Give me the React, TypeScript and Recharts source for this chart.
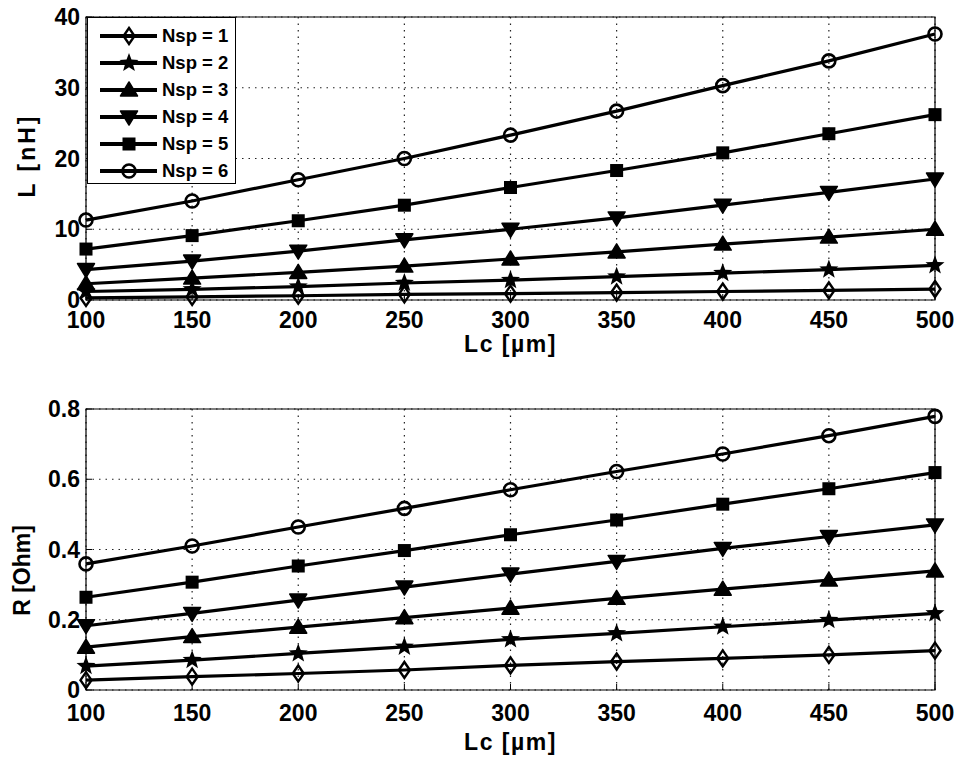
import React from 'react';
import {
  LineChart, Line, XAxis, YAxis, CartesianGrid, Legend, ReferenceArea, Label,
} from 'recharts';

// Lc sweep (µm)
const lcValues = [100, 150, 200, 250, 300, 350, 400, 450, 500];

// inductance L [nH] per Nsp
const lNsp1 = [0.3, 0.45, 0.6, 0.8, 0.9, 1.05, 1.2, 1.35, 1.55];
const lNsp2 = [1.2, 1.5, 1.9, 2.4, 2.8, 3.3, 3.8, 4.3, 4.9];
const lNsp3 = [2.3, 3.1, 3.9, 4.8, 5.8, 6.8, 7.9, 8.9, 10.0];
const lNsp4 = [4.3, 5.5, 6.9, 8.5, 10.0, 11.6, 13.4, 15.2, 17.1];
const lNsp5 = [7.2, 9.1, 11.2, 13.4, 15.9, 18.3, 20.8, 23.5, 26.2];
const lNsp6 = [11.3, 14.0, 17.0, 20.0, 23.3, 26.7, 30.3, 33.8, 37.6];

// resistance R [Ohm] per Nsp
const rNsp1 = [0.028, 0.038, 0.047, 0.057, 0.070, 0.081, 0.090, 0.100, 0.112];
const rNsp2 = [0.068, 0.085, 0.104, 0.123, 0.144, 0.161, 0.180, 0.199, 0.218];
const rNsp3 = [0.122, 0.152, 0.179, 0.206, 0.233, 0.261, 0.287, 0.313, 0.339];
const rNsp4 = [0.183, 0.218, 0.256, 0.293, 0.330, 0.366, 0.403, 0.437, 0.470];
const rNsp5 = [0.264, 0.307, 0.353, 0.397, 0.442, 0.484, 0.529, 0.573, 0.619];
const rNsp6 = [0.359, 0.410, 0.464, 0.517, 0.570, 0.622, 0.672, 0.724, 0.779];

const nspLabels = ['Nsp = 1', 'Nsp = 2', 'Nsp = 3', 'Nsp = 4', 'Nsp = 5', 'Nsp = 6'];
const lTicks = [0, 10, 20, 30, 40];
const rTicks = [0, 0.2, 0.4, 0.6, 0.8];

type Marker = 'diamond' | 'star' | 'up' | 'down' | 'square' | 'circle';
const markers: Marker[] = ['diamond', 'star', 'up', 'down', 'square', 'circle'];

const FONT = '"Liberation Sans", Arial, sans-serif';
const INK = '#000';

const toRows = (series: number[][]) =>
  lcValues.map((lc, i) => {
    const row: Record<string, number> = { lc };
    series.forEach((s, k) => { row[`n${k + 1}`] = s[i]; });
    return row;
  });

function MarkerShape({ kind, cx, cy }: { kind: Marker; cx: number; cy: number }) {
  switch (kind) {
    case 'diamond':
      return <polygon points={`${cx},${cy - 8} ${cx + 5.5},${cy} ${cx},${cy + 8} ${cx - 5.5},${cy}`} fill="none" stroke={INK} strokeWidth={2.4} />;
    case 'star': {
      const pts: string[] = [];
      for (let k = 0; k < 10; k++) {
        const r = k % 2 ? 4.2 : 10;
        const a = -Math.PI / 2 + (k * Math.PI) / 5;
        pts.push(`${cx + r * Math.cos(a)},${cy + r * Math.sin(a)}`);
      }
      return <polygon points={pts.join(' ')} fill={INK} />;
    }
    case 'up':
      return <polygon points={`${cx},${cy - 8} ${cx + 8.5},${cy + 6} ${cx - 8.5},${cy + 6}`} fill={INK} stroke={INK} strokeWidth={1.5} strokeLinejoin="round" />;
    case 'down':
      return <polygon points={`${cx},${cy + 8} ${cx + 8.5},${cy - 6} ${cx - 8.5},${cy - 6}`} fill={INK} stroke={INK} strokeWidth={1.5} strokeLinejoin="round" />;
    case 'square':
      return <rect x={cx - 6.5} y={cy - 6.5} width={13} height={13} fill={INK} />;
    default:
      return <circle cx={cx} cy={cy} r={6.5} fill="none" stroke={INK} strokeWidth={2.6} />;
  }
}

const renderLegend = () => (
  <div style={{ position: 'relative', width: 147, height: 165, border: '1px solid #000', background: '#fff' }}>
    {nspLabels.map((name, i) => (
      <div key={name} style={{ position: 'absolute', left: 11, top: 8 + i * 27, height: 20, display: 'flex', alignItems: 'center' }}>
        <svg width={60} height={20}>
          <line x1={1} y1={10} x2={58} y2={10} stroke={INK} strokeWidth={4} />
          <MarkerShape kind={markers[i]} cx={30} cy={10} />
        </svg>
        <span style={{ marginLeft: 3, fontFamily: FONT, fontWeight: 700, fontSize: 18.5, color: INK, whiteSpace: 'nowrap' }}>{name}</span>
      </div>
    ))}
  </div>
);

const tickStyle = { fill: INK, fontSize: 23, fontWeight: 700, fontFamily: FONT };

function Panel({
  height, plotTop, plotBottom, series, yDomain, yTicks, yFormat, yTitle, yTitleX, yTitleShift, yTitleSpacing,
  xTickMargin, xTitleOffset, legend,
}: {
  height: number; plotTop: number; plotBottom: number; series: number[][];
  yDomain: [number, number]; yTicks: number[]; yFormat: (v: number) => string;
  yTitle: string; yTitleX: number; yTitleShift: number; yTitleSpacing: number;
  xTickMargin: number; xTitleOffset: number; legend?: boolean;
}) {
  const data = toRows(series);
  return (
    <LineChart
      width={959}
      height={height}
      data={data}
      margin={{ top: plotTop, right: 24, bottom: height - plotBottom - 60, left: 0 }}
    >
      <CartesianGrid stroke="#222" strokeDasharray="1.5 5" strokeWidth={1.2} />
      <XAxis
        dataKey="lc"
        type="number"
        domain={[100, 500]}
        ticks={lcValues}
        interval={0}
        height={60}
        axisLine={false}
        tickSize={-6}
        tickMargin={xTickMargin}
        tickLine={{ stroke: INK }}
        tick={tickStyle}
      >
        <Label value="Lc [µm]" position="insideBottom" offset={xTitleOffset}
          style={{ fill: INK, fontSize: 23, fontWeight: 700, fontFamily: FONT, letterSpacing: 1.5 }} />
      </XAxis>
      {/* mirrored top axis: inward tick marks only */}
      <XAxis
        xAxisId="top"
        orientation="top"
        dataKey="lc"
        type="number"
        domain={[100, 500]}
        ticks={lcValues}
        interval={0}
        height={0}
        axisLine={false}
        tickSize={-6}
        tickLine={{ stroke: INK }}
        tick={false}
      />
      <YAxis
        type="number"
        domain={yDomain}
        ticks={yTicks}
        interval={0}
        width={86}
        axisLine={false}
        tickSize={-6}
        tickMargin={12}
        tickLine={{ stroke: INK }}
        tick={tickStyle}
        tickFormatter={yFormat}
      >
        <Label
          content={({ viewBox }: any) => {
            const x = viewBox.x + yTitleX;
            const y = viewBox.y + viewBox.height / 2 + yTitleShift;
            return (
              <text x={x} y={y} transform={`rotate(-90 ${x} ${y})`} textAnchor="middle" dominantBaseline="central"
                style={{ fill: INK, fontSize: 23, fontWeight: 700, fontFamily: FONT, letterSpacing: yTitleSpacing }}>
                {yTitle}
              </text>
            );
          }}
        />
      </YAxis>
      <YAxis
        yAxisId="right"
        orientation="right"
        type="number"
        domain={yDomain}
        ticks={yTicks}
        interval={0}
        width={0}
        axisLine={false}
        tickSize={-6}
        tickLine={{ stroke: INK }}
        tick={false}
      />
      <ReferenceArea x1={100} x2={500} y1={yDomain[0]} y2={yDomain[1]} fill="none" stroke={INK} strokeWidth={1.2} ifOverflow="visible" />
      {series.map((_, k) => (
        <Line
          key={k}
          dataKey={`n${k + 1}`}
          name={nspLabels[k]}
          stroke={INK}
          strokeWidth={3.2}
          isAnimationActive={false}
          dot={(p: any) => <MarkerShape key={`${k}-${p.index}`} kind={markers[k]} cx={p.cx} cy={p.cy} />}
        />
      ))}
      {legend && (
        <Legend layout="vertical" align="center" verticalAlign="middle" content={renderLegend}
          wrapperStyle={{ left: 87, top: 17, width: 149, height: 167 }} />
      )}
    </LineChart>
  );
}

export default function App() {
  return (
    <div style={{ position: 'absolute', left: 0, top: 0, width: 959, height: 759, background: '#fff' }}>
      <div style={{ position: 'absolute', left: 0, top: 0 }}>
        <Panel
          height={380} plotTop={17} plotBottom={300}
          series={[lNsp1, lNsp2, lNsp3, lNsp4, lNsp5, lNsp6]}
          yDomain={[0, 40]} yTicks={lTicks} yFormat={(v) => String(v)}
          yTitle="L [nH]" yTitleX={27} yTitleShift={-3} yTitleSpacing={3}
          xTickMargin={18} xTitleOffset={8} legend
        />
      </div>
      <div style={{ position: 'absolute', left: 0, top: 380 }}>
        <Panel
          height={379} plotTop={29} plotBottom={310}
          series={[rNsp1, rNsp2, rNsp3, rNsp4, rNsp5, rNsp6]}
          yDomain={[0, 0.8]} yTicks={rTicks} yFormat={(v) => (v === 0 ? '0' : v.toFixed(1))}
          yTitle="R [Ohm]" yTitleX={22} yTitleShift={21} yTitleSpacing={0}
          xTickMargin={21} xTitleOffset={0}
        />
      </div>
    </div>
  );
}
